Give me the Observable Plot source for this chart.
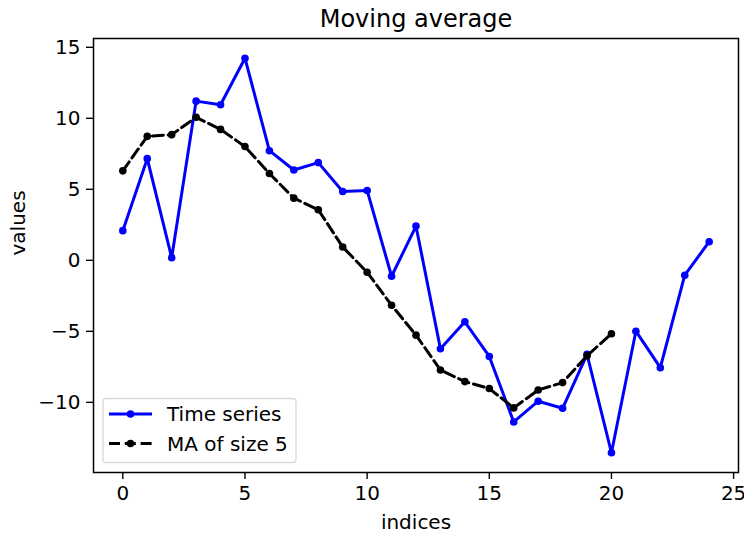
<!DOCTYPE html>
<html><head><meta charset="utf-8">
<script src="https://cdn.jsdelivr.net/npm/d3@7"></script>
<script src="https://cdn.jsdelivr.net/npm/@observablehq/plot@0.6"></script>
<style>body{margin:0;background:#fff;font-family:"DejaVu Sans",sans-serif}</style>
</head><body><div id="chart"></div>
<script>
const indices = [0,1,2,3,4,5,6,7,8,9,10,11,12,13,14,15,16,17,18,19,20,21,22,23,24];
const seriesValues = [2.09,7.16,0.19,11.21,10.95,14.23,7.72,6.36,6.88,4.85,4.92,-1.12,2.41,-6.23,-4.33,-6.77,-11.38,-9.92,-10.42,-6.62,-13.55,-4.99,-7.56,-1.05,1.31];
const maIndices = [0,1,2,3,4,5,6,7,8,9,10,11,12,13,14,15,16,17,18,19,20];
const maValues = [6.30,8.73,8.85,10.07,9.22,8.01,6.11,4.38,3.56,0.94,-0.84,-3.16,-5.27,-7.72,-8.54,-9.03,-10.39,-9.13,-8.61,-6.72,-5.17];
const xTicks = [0,5,10,15,20,25];
const yTicks = [-10,-5,0,5,10,15];
const seriesNames = ["Time series","MA of size 5"];

const ts = indices.map((x,i)=>({x, y: seriesValues[i]}));
const ma = maIndices.map((x,i)=>({x, y: maValues[i]}));
const fmt = d => String(d).replace("-", "\u2212");
const DASH = "11,4.8";

const chart = Plot.plot({
  width: 744, height: 537,
  marginTop: 38, marginLeft: 93, marginRight: 6, marginBottom: 65,
  style: {fontFamily: "DejaVu Sans, sans-serif", fontSize: "20px", color: "#000", background: "#fff", overflow: "visible"},
  x: {domain: [-1.2, 25.2], label: null},
  y: {domain: [-14.94, 15.62], label: null},
  marks: [
    Plot.axisX({ticks: xTicks, tickFormat: fmt, tickSize: 7, tickPadding: 6, fontSize: 20, stroke: "#000", strokeWidth: 1.4, label: null}),
    Plot.axisY({ticks: yTicks, tickFormat: fmt, tickSize: 7, tickPadding: 6, fontSize: 20, stroke: "#000", strokeWidth: 1.4, label: null}),
    Plot.line(ts, {x: "x", y: "y", stroke: "#0000ff", strokeWidth: 3}),
    Plot.dot(ts, {x: "x", y: "y", fill: "#0000ff", r: 3.8}),
    Plot.line(ma, {x: "x", y: "y", stroke: "#000", strokeWidth: 3, strokeDasharray: DASH}),
    Plot.dot(ma, {x: "x", y: "y", fill: "#000", r: 3.8}),
    Plot.frame({stroke: "#000", strokeWidth: 1.5}),
    Plot.text(["Moving average"], {frameAnchor: "top", lineAnchor: "middle", dy: -19, fontSize: 24, fill: "#000"}),
    Plot.text(["indices"], {frameAnchor: "bottom", lineAnchor: "middle", dy: 50, fontSize: 20, fill: "#000"}),
    Plot.text(["values"], {frameAnchor: "left", lineAnchor: "middle", dx: -75, rotate: -90, fontSize: 20, fill: "#000"})
  ]
});
document.getElementById("chart").appendChild(chart);

// legend
const svg = d3.select(chart);
const g = svg.append("g").attr("font-family","DejaVu Sans, sans-serif").attr("font-size",20).attr("text-anchor","start");
g.append("rect").attr("x",103).attr("y",398.5).attr("width",193).attr("height",64).attr("rx",3)
  .attr("fill","#fff").attr("fill-opacity",0.8).attr("stroke","#d9d9d9").attr("stroke-width",1.3);
const styles = [{c:"#0000ff",dash:null},{c:"#000",dash:DASH}];
seriesNames.forEach((name,i)=>{
  const y = 414 + i*29.5;
  g.append("line").attr("x1",109).attr("x2",152).attr("y1",y).attr("y2",y)
   .attr("stroke",styles[i].c).attr("stroke-width",3).attr("stroke-dasharray",styles[i].dash);
  g.append("circle").attr("cx",130.5).attr("cy",y).attr("r",3.8).attr("fill",styles[i].c);
  g.append("text").attr("x",167).attr("y",y).attr("dy","0.35em").attr("fill","#000").text(name);
});
</script></body></html>
